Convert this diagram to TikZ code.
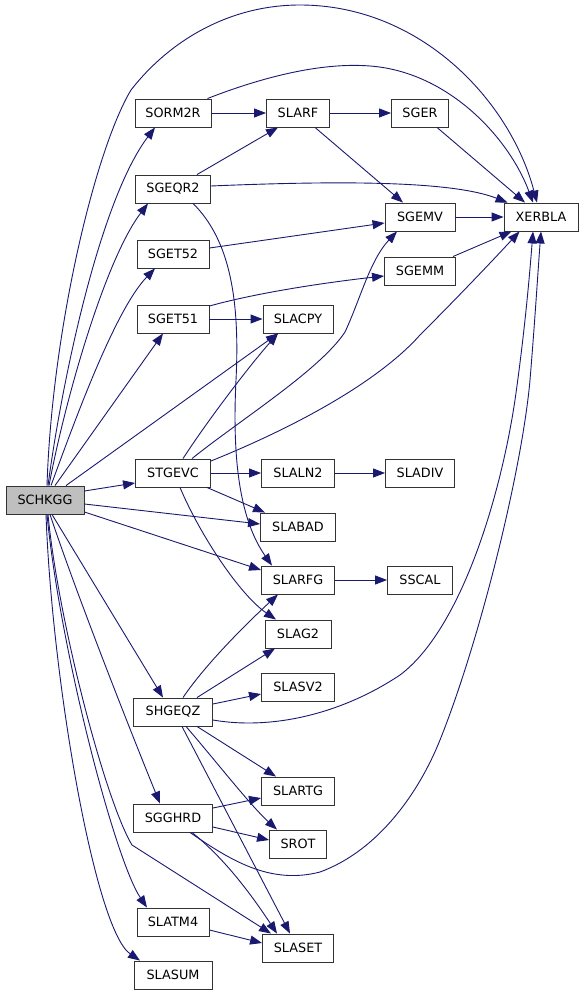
\documentclass[tikz,border=0pt]{standalone}
\usepackage{fontspec}
\setmainfont{DejaVu Sans}
\usetikzlibrary{arrows.meta}
\definecolor{eblue}{HTML}{191970}
\begin{document}
\begin{tikzpicture}[x=1pt,y=-1pt,
  box/.style={draw=black!80, line width=0.9pt, fill=white, minimum height=28pt, inner sep=0pt, font=\fontsize{12.8}{14}\selectfont},
  conn/.style={draw=eblue, line width=0.9pt, -{Triangle[length=12pt,width=9pt]}}]
\useasboundingbox (0,0) rectangle (584,995);
% column 1
\node[box,minimum width=78pt,fill=black!25] (schkgg) at (45,500) {SCHKGG};
% column 2
\node[box,minimum width=76pt] (sorm2r) at (173,113) {SORM2R};
\node[box,minimum width=75pt] (sgeqr2) at (173,189) {SGEQR2};
\node[box,minimum width=72pt] (sget52) at (173,254) {SGET52};
\node[box,minimum width=72pt] (sget51) at (173,319) {SGET51};
\node[box,minimum width=75pt] (stgevc) at (173,473) {STGEVC};
\node[box,minimum width=79pt] (shgeqz) at (173,712) {SHGEQZ};
\node[box,minimum width=79pt] (sgghrd) at (173,818) {SGGHRD};
\node[box,minimum width=72pt] (slatm4) at (173,922) {SLATM4};
\node[box,minimum width=78pt] (slasum) at (173,975) {SLASUM};
% column 3
\node[box,minimum width=63pt] (slarf) at (298,113) {SLARF};
\node[box,minimum width=70pt] (slacpy) at (298,319) {SLACPY};
\node[box,minimum width=73pt] (slaln2) at (298,473) {SLALN2};
\node[box,minimum width=75pt] (slabad) at (298,527) {SLABAD};
\node[box,minimum width=73pt] (slarfg) at (298,580) {SLARFG};
\node[box,minimum width=66pt] (slag2) at (298,634) {SLAG2};
\node[box,minimum width=73pt] (slasv2) at (298,687) {SLASV2};
\node[box,minimum width=73pt] (slartg) at (298,791) {SLARTG};
\node[box,minimum width=57pt] (srot) at (298,844) {SROT};
\node[box,minimum width=71pt] (slaset) at (298,948) {SLASET};
% column 4
\node[box,minimum width=57pt] (sger) at (420,113) {SGER};
\node[box,minimum width=70pt] (sgemv) at (420,217) {SGEMV};
\node[box,minimum width=71pt] (sgemm) at (420,271) {SGEMM};
\node[box,minimum width=69pt] (sladiv) at (420,473) {SLADIV};
\node[box,minimum width=65pt] (sscal) at (420,580) {SSCAL};
% column 5
\node[box,minimum width=74pt] (xerbla) at (541,217) {XERBLA};

% SCHKGG edges
\draw[conn] ([xshift=2pt]schkgg.north) .. controls (52,330) and (95,150) .. (131,90)
  .. controls (170,40) and (230,5) .. (300,5) .. controls (420,5) and (510,100) .. ([xshift=-4pt]xerbla.north);
\draw[conn] ([xshift=3pt]schkgg.north) .. controls (62,380) and (100,200) .. ([xshift=-18pt]sorm2r.south);
\draw[conn] ([xshift=4pt]schkgg.north) .. controls (65,400) and (105,260) .. ([xshift=-25pt]sgeqr2.south);
\draw[conn] ([xshift=6pt]schkgg.north) .. controls (75,420) and (115,310) .. ([xshift=-18pt]sget52.south);
\draw[conn] ([xshift=10pt]schkgg.north) -- ([xshift=-10pt]sget51.south);
\draw[conn] ([xshift=21pt]schkgg.north) -- ([xshift=-20pt]slacpy.south);
\draw[conn] ([yshift=9pt]schkgg.east) -- ([yshift=-10pt]stgevc.west);
\draw[conn] ([yshift=-4pt]schkgg.east) -- ([yshift=3pt]slabad.west);
\draw[conn] ([yshift=-12pt]schkgg.east) -- ([yshift=10pt]slarfg.west);
\draw[conn] ([xshift=7pt]schkgg.south) -- ([xshift=-10pt]shgeqz.north);
\draw[conn] ([xshift=5pt]schkgg.south) .. controls (75,590) and (130,730) .. ([xshift=-13pt]sgghrd.north);
\draw[conn] ([xshift=3pt]schkgg.south) .. controls (58,620) and (105,800) .. (132,845) -- ([xshift=-27pt]slaset.north);
\draw[conn] ([xshift=2pt]schkgg.south) .. controls (60,650) and (115,860) .. ([xshift=-26pt]slatm4.north);
\draw[conn] ([xshift=1pt]schkgg.south) .. controls (52,680) and (95,930) .. ([xshift=-33pt]slasum.north);

% SORM2R
\draw[conn] (sorm2r.east) -- (slarf.west);
\draw[conn] ([xshift=-4pt]sorm2r.north east) .. controls (260,78) and (320,62) .. (370,66)
  .. controls (450,72) and (510,140) .. ([xshift=-8pt]xerbla.north);
% SLARF
\draw[conn] (slarf.east) -- (sger.west);
\draw[conn] ([xshift=17pt]slarf.south) -- ([xshift=-17pt]sgemv.north);
% SGER
\draw[conn] ([xshift=17pt]sger.south) -- ([xshift=-16pt]xerbla.north);
% SGEQR2
\draw[conn] ([xshift=24pt]sgeqr2.north) -- ([xshift=-20pt]slarf.south);
\draw[conn] ([yshift=3pt]sgeqr2.east) .. controls (330,181) and (450,180) .. ([xshift=4pt]xerbla.north west);
\draw[conn] ([xshift=20pt]sgeqr2.south) .. controls (230,240) and (240,300) .. (236,380)
  .. controls (232,460) and (240,520) .. ([xshift=-26pt]slarfg.north);
% SGET52
\draw[conn] ([yshift=6pt]sget52.east) -- ([yshift=-6pt]sgemv.west);
% SGET51
\draw[conn] ([yshift=13pt]sget51.east) .. controls (260,292) and (330,282) .. ([yshift=-5pt]sgemm.west);
\draw[conn] (sget51.east) -- (slacpy.west);
% SGEMV, SGEMM
\draw[conn] (sgemv.east) -- (xerbla.west);
\draw[conn] ([xshift=-3pt]sgemm.north east) -- ([xshift=8pt]xerbla.south west);
% STGEVC
\draw[conn] ([xshift=10pt]stgevc.north) .. controls (208,420) and (250,365) .. ([xshift=-20pt]slacpy.south);
\draw[conn] ([xshift=19pt]stgevc.north) .. controls (240,420) and (320,370) .. (345,332)
  .. controls (360,300) and (370,260) .. ([xshift=-23pt]sgemv.south);
\draw[conn] ([yshift=12pt]stgevc.east) .. controls (300,425) and (380,380) .. (420,335)
  .. controls (460,295) and (495,258) .. ([xshift=16pt]xerbla.south west);
\draw[conn] (stgevc.east) -- (slaln2.west);
\draw[conn] ([xshift=-4pt]stgevc.south east) -- ([xshift=5pt]slabad.north west);
\draw[conn] ([xshift=7pt]stgevc.south) .. controls (200,535) and (240,595) .. ([xshift=-22pt]slag2.north);
% SLALN2, SLARFG
\draw[conn] (slaln2.east) -- (sladiv.west);
\draw[conn] (slarfg.east) -- (sscal.west);
% SHGEQZ
\draw[conn] ([xshift=10pt]shgeqz.north) .. controls (205,665) and (245,625) .. ([xshift=-20pt]slarfg.south);
\draw[conn] ([xshift=24pt]shgeqz.north) -- ([xshift=-23pt]slag2.south);
\draw[conn] ([yshift=8pt]shgeqz.east) -- ([yshift=-7pt]slasv2.west);
\draw[conn] ([yshift=-8pt]shgeqz.east) .. controls (270,730) and (340,715) .. (400,675)
  .. controls (460,630) and (500,500) .. (515,400) .. controls (525,330) and (530,270) .. ([xshift=-8pt]xerbla.south);
\draw[conn] ([xshift=24pt]shgeqz.south) -- ([xshift=-22pt]slartg.north);
\draw[conn] ([xshift=13pt]shgeqz.south) .. controls (215,760) and (250,805) .. ([xshift=-21pt]srot.north);
\draw[conn] ([xshift=9pt]shgeqz.south) -- ([xshift=-8pt]slaset.north);
% SGGHRD
\draw[conn] ([yshift=10pt]sgghrd.east) -- ([yshift=-7pt]slartg.west);
\draw[conn] ([yshift=-9pt]sgghrd.east) -- ([yshift=4pt]srot.west);
\draw[conn] ([xshift=19pt]sgghrd.south) .. controls (220,855) and (245,885) .. ([xshift=-21pt]slaset.north);
\draw[conn] ([xshift=17pt]sgghrd.south) .. controls (230,860) and (270,885) .. (320,872)
  .. controls (380,850) and (420,790) .. (440,740) .. controls (480,640) and (522,470) .. (530,380)
  .. controls (535,320) and (538,270) .. (xerbla.south);
% SLATM4
\draw[conn] ([yshift=-8pt]slatm4.east) -- ([yshift=5pt]slaset.west);
\end{tikzpicture}
\end{document}
